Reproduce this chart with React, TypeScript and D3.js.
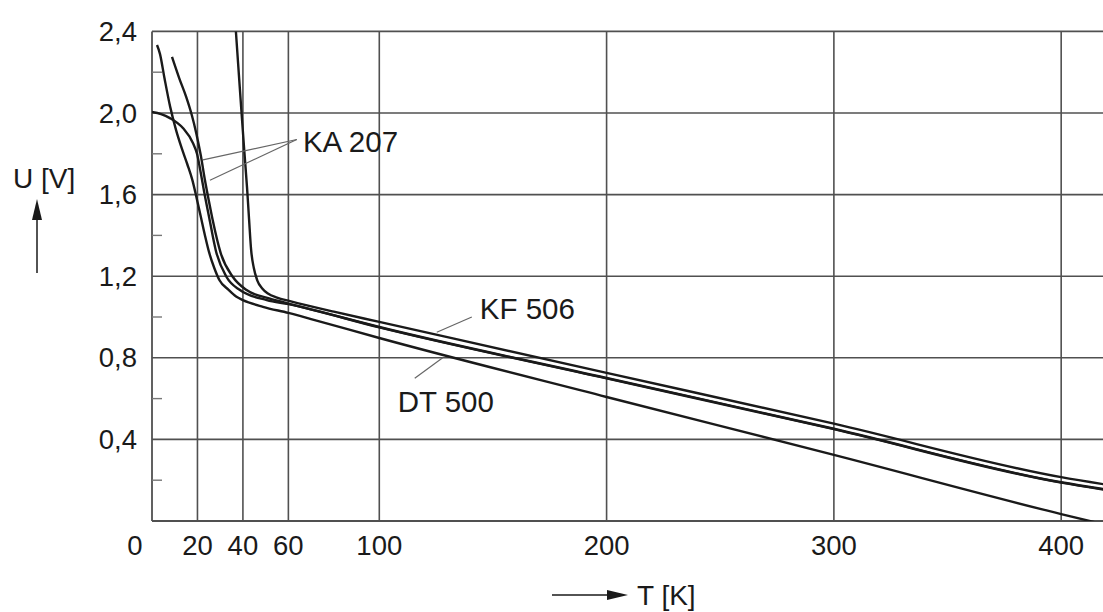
import React from "react";
import * as d3 from "d3";

// temperature T [K] / voltage U [V]
const dtT = [2.2, 3.5, 5.5, 8, 10.5, 13, 15.5, 17.8, 19.7, 21.5, 23.3, 25.2, 27.4, 29.7, 33.5, 37, 40, 48.8, 60, 70, 100, 200, 300, 400, 420];
const dtU = [2.333, 2.29, 2.17, 2.03, 1.92, 1.83, 1.75, 1.67, 1.58, 1.49, 1.4, 1.314, 1.24, 1.18, 1.135, 1.1, 1.083, 1.05, 1.02, 0.99, 0.897, 0.608, 0.324, 0.034, -0.02];

const kaBT = [8.8, 12, 15, 17.5, 19.5, 21.5, 23.3, 25, 26.7, 30.2, 35.6, 41.6, 51.9, 60, 100, 200, 300, 400, 420];
const kaBU = [2.275, 2.17, 2.08, 1.99, 1.9, 1.79, 1.67, 1.57, 1.475, 1.314, 1.196, 1.132, 1.09, 1.066, 0.951, 0.701, 0.452, 0.19, 0.154];

const kaCT = [0, 4, 7.9, 13.6, 18, 19.8, 21.4, 23, 25.2, 28.1, 32.8, 38.7, 50.5, 60, 100, 200, 300, 400, 420];
const kaCU = [2.005, 1.995, 1.975, 1.926, 1.853, 1.8, 1.71, 1.61, 1.485, 1.325, 1.196, 1.132, 1.083, 1.063, 0.949, 0.699, 0.45, 0.188, 0.152];

const kfT = [36.6, 37.9, 39.4, 40.6, 41.8, 42.7, 43.6, 44.8, 46.3, 48.5, 51, 55, 60.7, 80, 100, 200, 300, 400, 420];
const kfU = [2.45, 2.24, 2.0, 1.815, 1.637, 1.48, 1.33, 1.24, 1.18, 1.14, 1.115, 1.095, 1.078, 1.026, 0.976, 0.726, 0.477, 0.215, 0.178];

const xTicks = [20, 40, 60, 100, 200, 300, 400];
const yTicks = [0.4, 0.8, 1.2, 1.6, 2.0, 2.4];
const yMinor = [0.2, 0.6, 1.0, 1.4, 1.8, 2.2];

const curves = [
  { name: "DT 500", t: dtT, u: dtU },
  { name: "KA 207 a", t: kaBT, u: kaBU },
  { name: "KA 207 b", t: kaCT, u: kaCU },
  { name: "KF 506", t: kfT, u: kfU },
];

// label text with leader lines, anchors in data units
const labels = [
  { text: "KA 207", at: [66.4, 1.81], from: [63.7, 1.87], to: [[22.4, 1.77], [25.5, 1.67]] },
  { text: "KF 506", at: [144.2, 0.99], from: [140.7, 1.0], to: [[125.3, 0.925]] },
  { text: "DT 500", at: [108.1, 0.534], from: [115.6, 0.7], to: [[127.9, 0.8]] },
];

const fmt = (v: number) => v.toFixed(1).replace(".", ",");

export default function App() {
  const W = 1103, H = 612;
  const x = d3.scaleLinear().domain([0, 418.4]).range([152, 1103]);
  const y = d3.scaleLinear().domain([0, 2.4]).range([521, 31.4]);

  const line = d3
    .line<[number, number]>()
    .x((d) => x(d[0]))
    .y((d) => y(d[1]))
    .curve(d3.curveMonotoneX);

  const font = "'Liberation Sans', Arial, sans-serif";
  const gridColor = "#505050";
  const ink = "#1a1a1a";

  return (
    <svg width={W} height={H} style={{ position: "absolute", left: 0, top: 0, background: "#fff" }}>
      <defs>
        <clipPath id="plot">
          <rect x={x(0)} y={y(2.4)} width={W - x(0)} height={y(0) - y(2.4)} />
        </clipPath>
      </defs>

      {/* grid */}
      {yTicks.map((v) => (
        <line key={"h" + v} x1={x(0)} x2={W} y1={y(v)} y2={y(v)} stroke={gridColor} strokeWidth={1.6} />
      ))}
      {xTicks.map((v) => (
        <line key={"v" + v} x1={x(v)} x2={x(v)} y1={y(2.4)} y2={y(0)} stroke={gridColor} strokeWidth={1.6} />
      ))}
      <line x1={x(0)} x2={x(0)} y1={y(2.4)} y2={y(0)} stroke={gridColor} strokeWidth={1.8} />
      <line x1={x(0)} x2={W} y1={y(0)} y2={y(0)} stroke={gridColor} strokeWidth={1.8} />
      {yMinor.map((v) => (
        <line key={"m" + v} x1={x(0)} x2={x(0) + 10} y1={y(v)} y2={y(v)} stroke="#777" strokeWidth={1.4} />
      ))}

      {/* curves */}
      <g clipPath="url(#plot)">
        {curves.map((c) => (
          <path
            key={c.name}
            d={line(c.t.map((t, i) => [t, c.u[i]] as [number, number])) || ""}
            fill="none"
            stroke={ink}
            strokeWidth={2.4}
          />
        ))}
      </g>

      {/* labels */}
      {labels.map((l) => (
        <g key={l.text}>
          {l.to.map((p, i) => (
            <line key={i} x1={x(l.from[0])} y1={y(l.from[1])} x2={x(p[0])} y2={y(p[1])} stroke="#666" strokeWidth={1.2} />
          ))}
          <text x={x(l.at[0])} y={y(l.at[1])} fontFamily={font} fontSize={29.5} fill={ink}>
            {l.text}
          </text>
        </g>
      ))}

      {/* y tick labels */}
      {yTicks.map((v) => (
        <text key={"yl" + v} x={137} y={y(v) + 9.5} textAnchor="end" fontFamily={font} fontSize={27.5} fill={ink}>
          {fmt(v)}
        </text>
      ))}
      {/* x tick labels */}
      <text x={135} y={555} textAnchor="middle" fontFamily={font} fontSize={27.5} fill={ink}>0</text>
      {xTicks.map((v) => (
        <text key={"xl" + v} x={x(v)} y={555} textAnchor="middle" fontFamily={font} fontSize={27.5} fill={ink}>
          {v}
        </text>
      ))}

      {/* axis titles */}
      <text x={13} y={188} fontFamily={font} fontSize={28} fill={ink}>U [V]</text>
      <line x1={37} y1={273} x2={37} y2={215} stroke={ink} strokeWidth={1.5} />
      <path d="M37,199 L42,220 L32,220 Z" fill={ink} />
      <text x={637} y={605} fontFamily={font} fontSize={28} fill={ink}>T [K]</text>
      <line x1={552} y1={595} x2={612} y2={595} stroke={ink} strokeWidth={1.5} />
      <path d="M628,595 L607,590 L607,600 Z" fill={ink} />
    </svg>
  );
}
